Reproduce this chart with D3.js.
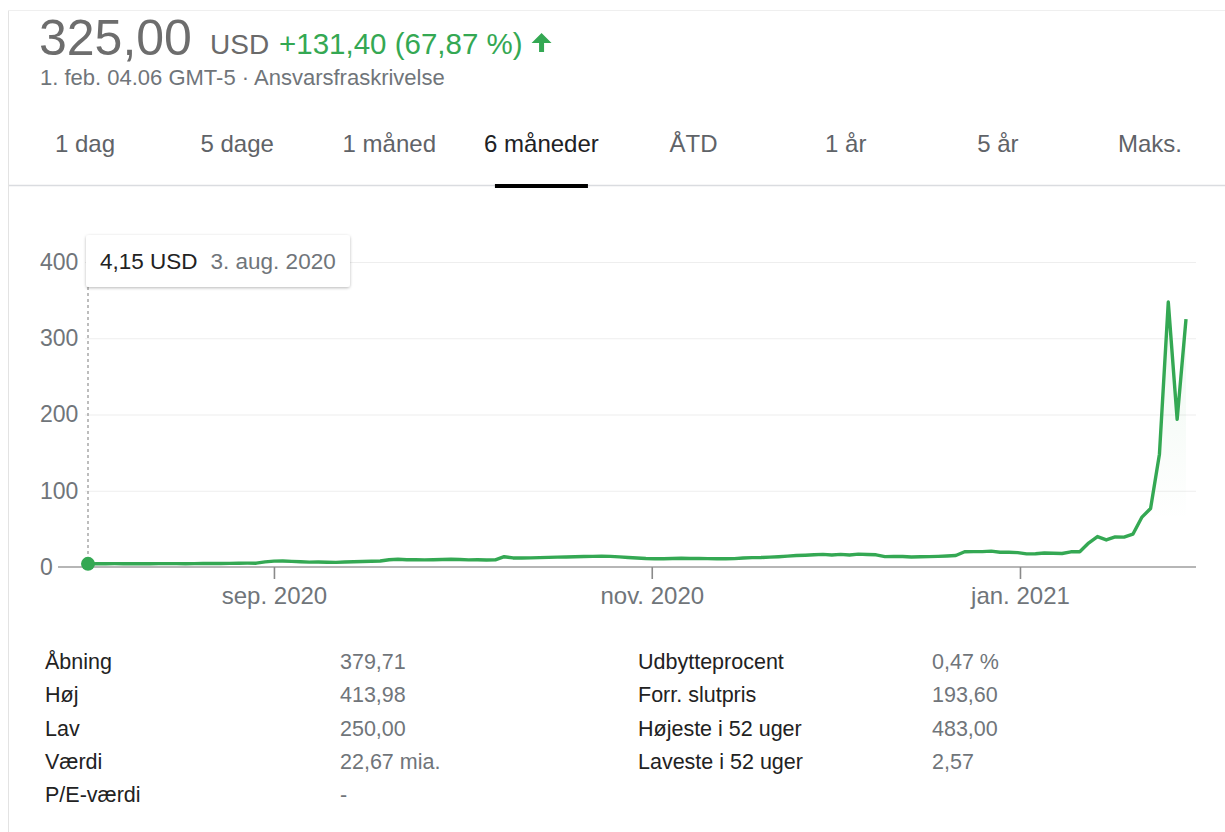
<!DOCTYPE html>
<html><head><meta charset="utf-8">
<script src="https://cdn.jsdelivr.net/npm/d3@7"></script>
<style>
html,body{margin:0;padding:0;background:#fff;}
svg{display:block;font-family:"Liberation Sans",Arial,sans-serif;}
</style></head><body>
<svg id="c" width="1225" height="832"></svg>
<script>
// ---------- DATA ----------
const tradingDays = [
"2020-08-03","2020-08-04","2020-08-05","2020-08-06","2020-08-07","2020-08-10","2020-08-11","2020-08-12","2020-08-13","2020-08-14","2020-08-17","2020-08-18","2020-08-19","2020-08-20","2020-08-21","2020-08-24","2020-08-25","2020-08-26","2020-08-27","2020-08-28","2020-08-31",
"2020-09-01","2020-09-02","2020-09-03","2020-09-04","2020-09-08","2020-09-09","2020-09-10","2020-09-11","2020-09-14","2020-09-15","2020-09-16","2020-09-17","2020-09-18","2020-09-21","2020-09-22","2020-09-23","2020-09-24","2020-09-25","2020-09-28","2020-09-29","2020-09-30",
"2020-10-01","2020-10-02","2020-10-05","2020-10-06","2020-10-07","2020-10-08","2020-10-09","2020-10-12","2020-10-13","2020-10-14","2020-10-15","2020-10-16","2020-10-19","2020-10-20","2020-10-21","2020-10-22","2020-10-23","2020-10-26","2020-10-27","2020-10-28","2020-10-29","2020-10-30",
"2020-11-02","2020-11-03","2020-11-04","2020-11-05","2020-11-06","2020-11-09","2020-11-10","2020-11-11","2020-11-12","2020-11-13","2020-11-16","2020-11-17","2020-11-18","2020-11-19","2020-11-20","2020-11-23","2020-11-24","2020-11-25","2020-11-27","2020-11-30",
"2020-12-01","2020-12-02","2020-12-03","2020-12-04","2020-12-07","2020-12-08","2020-12-09","2020-12-10","2020-12-11","2020-12-14","2020-12-15","2020-12-16","2020-12-17","2020-12-18","2020-12-21","2020-12-22","2020-12-23","2020-12-24","2020-12-28","2020-12-29","2020-12-30","2020-12-31",
"2021-01-04","2021-01-05","2021-01-06","2021-01-07","2021-01-08","2021-01-11","2021-01-12","2021-01-13","2021-01-14","2021-01-15","2021-01-19","2021-01-20","2021-01-21","2021-01-22","2021-01-25","2021-01-26","2021-01-27","2021-01-28","2021-01-29"
];
const closes = [
4.15,4.43,4.30,4.40,4.25,4.21,4.22,4.31,4.45,4.43,4.40,4.33,4.37,4.50,4.58,4.66,4.77,4.96,5.05,5.00,6.68,
7.65,7.80,7.44,6.94,6.45,6.53,6.23,6.10,6.50,6.90,7.30,7.60,7.80,9.57,10.10,9.45,9.46,9.36,9.60,9.82,10.20,
9.77,9.39,9.46,9.13,9.36,13.49,11.90,11.80,12.00,12.30,12.60,13.00,13.20,13.50,13.70,14.00,14.20,13.90,13.30,12.50,11.80,11.10,
10.80,10.90,11.20,11.40,11.20,11.30,11.00,10.90,10.80,11.00,11.80,12.30,12.50,13.00,13.50,14.20,15.00,15.50,16.00,16.56,
15.80,16.58,15.73,16.94,16.35,16.00,13.66,14.00,13.85,13.20,13.40,13.60,14.00,14.40,15.00,20.00,20.10,20.20,20.80,19.40,19.30,18.84,
17.25,17.37,18.36,18.08,17.69,19.94,19.95,31.40,39.91,35.50,39.36,39.12,43.03,65.01,76.79,147.98,347.51,193.60,325.00
];
const currency = "USD";
const timestampText = "1. feb. 04.06 GMT-5";
const disclaimerText = "Ansvarsfraskrivelse";
const tabs = ["1 dag","5 dage","1 måned","6 måneder","ÅTD","1 år","5 år","Maks."];
const selectedTab = "6 måneder";
const yTicks = [0,100,200,300,400];
const xTickDates = ["2020-09-01","2020-11-01","2021-01-01"];
const xTickLabels = ["sep. 2020","nov. 2020","jan. 2021"];
const monthsDa = ["jan.","feb.","mar.","apr.","maj","jun.","jul.","aug.","sep.","okt.","nov.","dec."];
const statLabelsLeft = ["Åbning","Høj","Lav","Værdi","P/E-værdi"];
const statValuesLeft = ["379,71","413,98","250,00","22,67 mia.","-"];
const statLabelsRight = ["Udbytteprocent","Forr. slutpris","Højeste i 52 uger","Laveste i 52 uger"];
const statValuesRight = ["0,47 %","193,60","483,00","2,57"];

// ---------- SETUP ----------
const GREEN = "#34a853";
const svg = d3.select("#c");
const loc = d3.formatLocale({decimal: ",", thousands: ".", grouping: [3], currency: ["", ""]});
const f2 = loc.format(".2f");

// frame lines
svg.append("line").attr("x1",8.5).attr("x2",8.5).attr("y1",10).attr("y2",832).attr("stroke","#e3e3e3").attr("stroke-width",1);
svg.append("line").attr("x1",8).attr("x2",1225).attr("y1",10.5).attr("y2",10.5).attr("stroke","#efefef").attr("stroke-width",1);

// ---------- HEADER ----------
const last = closes[closes.length-1], prev = closes[closes.length-2];
const chg = last - prev, pct = chg/prev*100;
svg.append("text").attr("x",39).attr("y",55).attr("font-size",50).attr("fill","#6d6d6d").text(f2(last));
svg.append("text").attr("x",210).attr("y",54).attr("font-size",28).attr("fill","#6a6a6a").text(currency);
const gTxt = svg.append("text").attr("x",279).attr("y",54).attr("font-size",29.5).attr("fill",GREEN)
  .text("+" + f2(chg) + " (" + f2(pct) + " %)");
const gEnd = 279 + gTxt.node().getComputedTextLength();
// up arrow
const ax = gEnd + 19, ay = 33;
svg.append("path").attr("fill",GREEN)
  .attr("d",`M${ax},${ay} L${ax+10},${ay+10} L${ax+2.5},${ay+10} L${ax+2.5},${ay+19} L${ax-2.5},${ay+19} L${ax-2.5},${ay+10} L${ax-10},${ay+10} Z`);
svg.append("text").attr("x",40).attr("y",85).attr("font-size",22).attr("fill","#70757a")
  .text(timestampText + " · " + disclaimerText);

// ---------- TABS ----------
const tabX = d3.scalePoint().domain(tabs).range([85,1150]);
svg.append("g").selectAll("text").data(tabs).join("text")
  .attr("x",d=>tabX(d)).attr("y",152).attr("text-anchor","middle").attr("font-size",24)
  .attr("fill",d=>d===selectedTab?"#202124":"#5f6368").text(d=>d);
svg.append("line").attr("x1",9).attr("x2",1225).attr("y1",185.5).attr("y2",185.5).attr("stroke","#dadce0").attr("stroke-width",1.5);
svg.append("rect").attr("x",tabX(selectedTab)-46.5).attr("y",184).attr("width",93).attr("height",4).attr("fill","#000");

// ---------- CHART ----------
const parse = d3.utcParse("%Y-%m-%d");
const dayNums = tradingDays.map(d=>+parse(d));
function fracIndex(s){
  const t = +parse(s);
  const i = d3.bisectLeft(dayNums, t);
  if (dayNums[i] === t) return i;
  return i-1 + (t - dayNums[i-1])/(dayNums[i]-dayNums[i-1]);
}
const x = d3.scaleLinear().domain([0, closes.length-1]).range([88,1186]);
const y = d3.scaleLinear().domain([0,400]).range([567,262]);

// grid
const gridG = svg.append("g").attr("transform","translate(85,0)")
  .call(d3.axisLeft(y).tickValues(yTicks.filter(v=>v>0)).tickSize(-(1196-85)).tickFormat(""));
gridG.select(".domain").remove();
gridG.selectAll(".tick line").attr("stroke","#eeeeee").attr("stroke-width",1.2);

// y labels (left-aligned)
const yLab = svg.append("g").attr("transform","translate(40,0)")
  .call(d3.axisLeft(y).tickValues(yTicks).tickSize(0).tickPadding(0).tickFormat(d3.format("d")));
yLab.select(".domain").remove();
yLab.selectAll("text").attr("text-anchor","start").attr("font-size",23).attr("fill","#70757a").attr("font-family","Liberation Sans, Arial, sans-serif");

// area gradient
const defs = svg.append("defs");
const grad = defs.append("linearGradient").attr("id","ag").attr("gradientUnits","userSpaceOnUse")
  .attr("x1",0).attr("x2",0).attr("y1",y(400)).attr("y2",y(60));
grad.append("stop").attr("offset",0).attr("stop-color",GREEN).attr("stop-opacity",0.10);
grad.append("stop").attr("offset",1).attr("stop-color",GREEN).attr("stop-opacity",0);
const sh = defs.append("filter").attr("id","sh").attr("x","-10%").attr("y","-30%").attr("width","120%").attr("height","170%");
sh.append("feDropShadow").attr("dx",0).attr("dy",1).attr("stdDeviation",1.6).attr("flood-color","#000").attr("flood-opacity",0.28);

svg.append("path").datum(closes)
  .attr("d", d3.area().x((d,i)=>x(i)).y0(y(0)).y1(d=>y(d)))
  .attr("fill","url(#ag)");

// x axis
const xAx = svg.append("g").attr("transform",`translate(0,${y(0)})`)
  .call(d3.axisBottom(x).tickValues(xTickDates.map(fracIndex)).tickSize(12).tickPadding(8)
    .tickFormat((d,i)=>xTickLabels[i]));
xAx.select(".domain").attr("d","M58,0H1196").attr("stroke","#9e9e9e").attr("stroke-width",1.6);
xAx.selectAll(".tick line").attr("stroke","#8a8a8a").attr("stroke-width",1.6);
xAx.selectAll("text").attr("font-size",24).attr("fill","#70757a").attr("font-family","Liberation Sans, Arial, sans-serif");

// line
svg.append("path").datum(closes)
  .attr("d", d3.line().x((d,i)=>x(i)).y(d=>y(d)))
  .attr("fill","none").attr("stroke",GREEN).attr("stroke-width",3.4).attr("stroke-linejoin","round");

// hover marker at first point
const hx = x(0), hy = y(closes[0]);
svg.append("line").attr("x1",hx).attr("x2",hx).attr("y1",287).attr("y2",hy)
  .attr("stroke","#9a9a9a").attr("stroke-width",1.3).attr("stroke-dasharray","3,3");
svg.append("circle").attr("cx",hx).attr("cy",hy).attr("r",7).attr("fill",GREEN);

// tooltip
const d0 = parse(tradingDays[0]);
const tip = svg.append("g");
tip.append("rect").attr("x",86).attr("y",235).attr("width",264).attr("height",52).attr("rx",3)
  .attr("fill","#fff").attr("filter","url(#sh)");
const t1 = tip.append("text").attr("x",100).attr("y",269).attr("font-size",22.5).attr("fill","#222")
  .text(f2(closes[0]) + " " + currency);
tip.append("text").attr("x",100 + t1.node().getComputedTextLength() + 13).attr("y",269).attr("font-size",22.5).attr("fill","#70757a")
  .text(d0.getUTCDate() + ". " + monthsDa[d0.getUTCMonth()] + " " + d0.getUTCFullYear());

// ---------- STATS TABLE ----------
const rowY = d3.scalePoint().domain(d3.range(5)).range([669,802]);
const st = svg.append("g").attr("font-size",21.5);
st.selectAll(".ll").data(statLabelsLeft).join("text").attr("x",45).attr("y",(d,i)=>rowY(i)).attr("fill","#222").text(d=>d);
st.selectAll(".lv").data(statValuesLeft).join("text").attr("x",340).attr("y",(d,i)=>rowY(i)).attr("fill","#70757a").text(d=>d);
st.selectAll(".rl").data(statLabelsRight).join("text").attr("x",638).attr("y",(d,i)=>rowY(i)).attr("fill","#222").text(d=>d);
st.selectAll(".rv").data(statValuesRight).join("text").attr("x",932).attr("y",(d,i)=>rowY(i)).attr("fill","#70757a").text(d=>d);
</script>
</body></html>
